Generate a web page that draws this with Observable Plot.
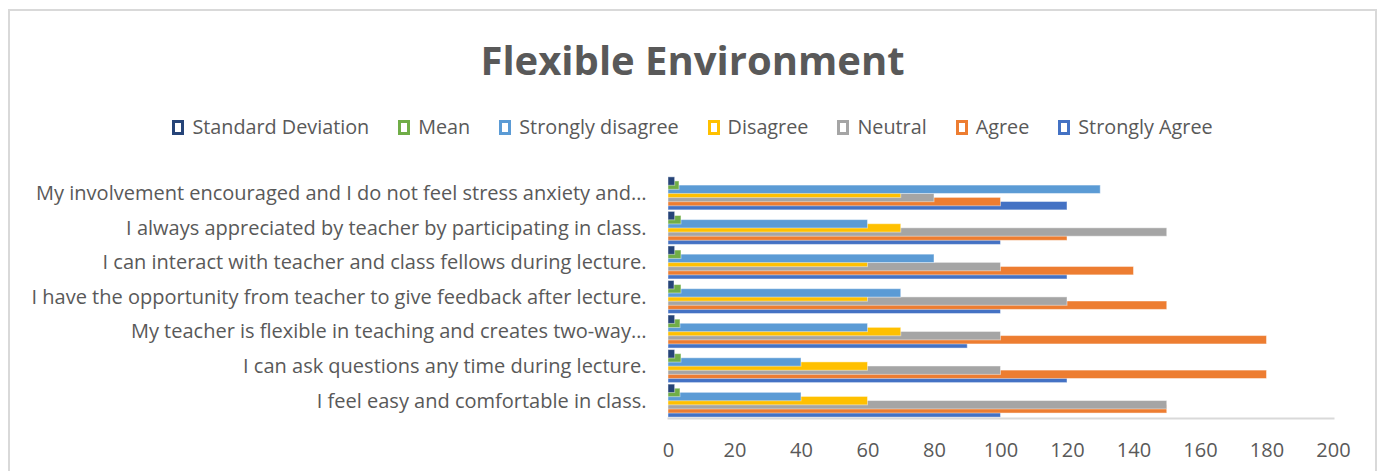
<!DOCTYPE html>
<html><head><meta charset="utf-8">
<script src="https://cdn.jsdelivr.net/npm/d3@7"></script>
<script src="https://cdn.jsdelivr.net/npm/@observablehq/plot@0.6"></script>
<style>
body{margin:0;background:#fff;font-family:"Open Sans","Noto Sans",sans-serif;width:1383px;height:471px;overflow:hidden;position:relative;}
#frame{position:absolute;left:8px;top:9px;width:1369px;height:470px;border:2px solid #d9d9d9;border-bottom:none;box-sizing:border-box;}
#title{position:absolute;top:34px;left:0;width:1385px;text-align:center;font-size:40px;font-weight:bold;color:#595959;line-height:52px;}
#legend{position:absolute;top:113px;left:0;width:1385px;display:flex;justify-content:center;align-items:center;font-size:19.8px;color:#595959;line-height:28px;}
.item{display:flex;align-items:center;margin:0 14.5px;}
.sw{display:inline-block;width:6px;height:9px;border:3px solid;background:#fff;margin-right:8px;}
#chart{position:absolute;left:0;top:160px;}
</style></head>
<body>
<div id="frame"></div>
<div id="title">Flexible Environment</div>
<div id="legend"></div>
<div id="chart"></div>
<script>
const questions = [
  "My involvement encouraged and I do not feel stress anxiety and…",
  "I always appreciated by teacher by participating in class.",
  "I can interact with teacher and class fellows during lecture.",
  "I have the opportunity from teacher to give feedback after lecture.",
  "My teacher is flexible in teaching and creates two-way…",
  "I can ask questions any time during lecture.",
  "I feel easy and comfortable in class."
];
const seriesNames = ["Standard Deviation","Mean","Strongly disagree","Disagree","Neutral","Agree","Strongly Agree"];
const seriesColors = ["#264478","#70AD47","#5B9BD5","#FFC000","#A5A5A5","#ED7D31","#4472C4"];
const standardDeviation = [2.0, 2.0, 2.0, 1.8, 2.0, 2.0, 2.0];
const mean             = [3.3, 3.9, 3.9, 3.9, 3.6, 3.9, 3.6];
const stronglyDisagree = [130, 60, 80, 70, 60, 40, 40];
const disagree         = [70, 70, 60, 60, 70, 60, 60];
const neutral          = [80, 150, 100, 120, 100, 100, 150];
const agree            = [100, 120, 140, 150, 180, 180, 150];
const stronglyAgree    = [120, 100, 120, 100, 90, 120, 100];
const xTicks = [0,20,40,60,80,100,120,140,160,180,200];

const seriesValues = [standardDeviation, mean, stronglyDisagree, disagree, neutral, agree, stronglyAgree];

// legend
const legend = d3.select("#legend");
seriesNames.forEach((s,i)=>{
  const it = legend.append("div").attr("class","item");
  it.append("span").attr("class","sw").style("border-color", seriesColors[i]);
  it.append("span").text(s);
});

// rows: draw lower series first so upper ones sit on top
const rows = [];
for (let i = seriesNames.length - 1; i >= 0; --i) {
  questions.forEach((q, j) => rows.push({q, s: seriesNames[i], v: seriesValues[i][j]}));
}

const chart = Plot.plot({
  width: 1383,
  height: 311,
  marginLeft: 668,
  marginRight: 50,
  marginTop: 19,
  marginBottom: 56,
  style: {fontFamily: "'Open Sans', 'Noto Sans', sans-serif", fontSize: "20px", color: "#595959", background: "transparent"},
  x: {domain: [0, 200], ticks: xTicks, tickSize: 0, tickPadding: 27, label: null},
  y: {domain: seriesNames, axis: null, padding: 0, round: false},
  fy: {domain: questions, padding: 0.168, round: false, axis: "left", tickSize: 0, tickPadding: 22, label: null},
  color: {domain: seriesNames, range: seriesColors},
  marks: [
    Plot.barX(rows, {x: "v", y: "s", fy: "q", fill: "s", insetTop: -2.15, insetBottom: -2.15, stroke: "#fff", strokeOpacity: 0.45, strokeWidth: 1}),
    Plot.frame({anchor: "bottom", facet: "super", stroke: "#d9d9d9", strokeWidth: 2, insetBottom: -3})
  ]
});
document.getElementById("chart").appendChild(chart);
</script>
</body></html>
